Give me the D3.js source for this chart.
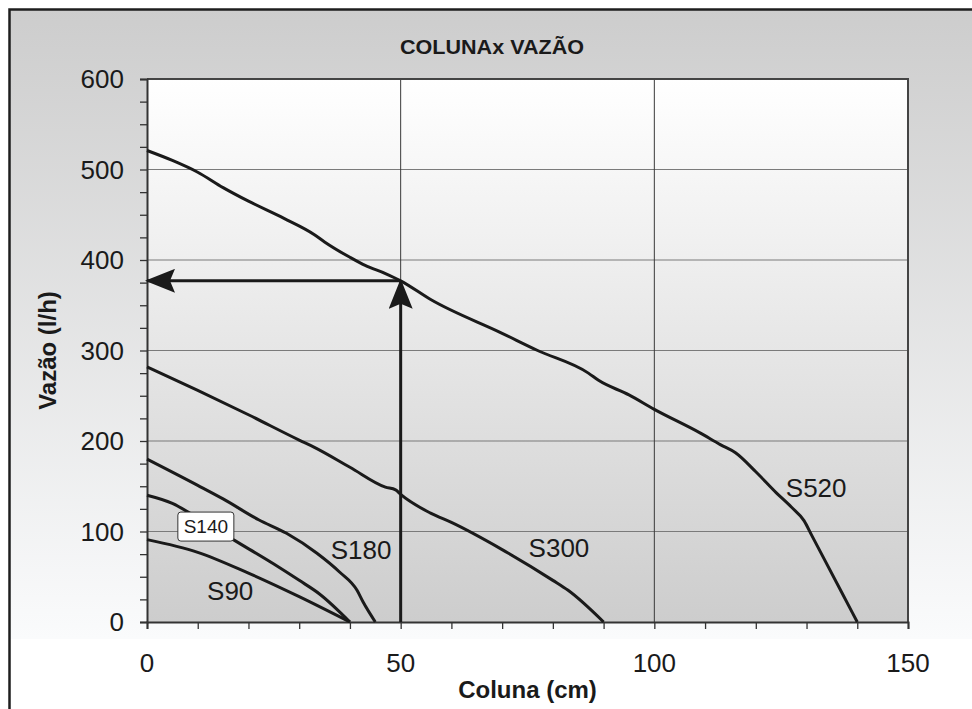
<!DOCTYPE html>
<html lang="pt">
<head>
    <meta charset="UTF-8">
    <title>COLUNAx VAZÃO</title>
    <script src="https://d3js.org/d3.v7.min.js"></script>
    <style>
        body { margin: 0; background: #fff; }
        svg { display: block; font-family: "Liberation Sans", Arial, sans-serif; }
        .tick-label { font-size: 26px; fill: #1a1a1a; }
        .curve-label { font-size: 26px; fill: #1a1a1a; }
    </style>
</head>
<body>
<div id="chart"></div>

<script>
    // Curvas: coluna (cm) x vazão (l/h)
    const colunaS90 = [0, 10, 20, 30, 40];
    const vazaoS90 = [91, 77, 54, 28, 0];

    const colunaS140 = [0, 5, 10, 17, 25, 30, 34, 40];
    const vazaoS140 = [140, 131, 115, 91, 64, 46, 31, 0];

    const colunaS180 = [0, 10, 15, 22, 27.5, 33.5, 38, 41.4, 42.6, 45];
    const vazaoS180 = [180, 151, 136, 113, 98, 76, 55, 35, 22, 0];

    const colunaS300 = [0, 10, 20, 30, 33, 40, 47, 49, 50, 56, 60, 70, 80, 83, 90];
    const vazaoS300 = [282, 256, 229, 201, 193, 171, 149, 146, 141, 120, 110, 80, 46, 35, 0];

    const colunaS520 = [0, 5, 10, 15, 20, 27, 33, 35, 40, 43, 47, 50, 56, 70, 77, 87, 89, 95, 100, 109, 113, 116, 120, 124, 127, 129.5, 131, 137, 140];
    const vazaoS520 = [521, 510, 497, 480, 465, 446, 428, 420, 403, 394, 385, 377, 356, 319, 300, 275, 267, 251, 235, 209, 196, 187, 166, 143, 127, 112, 96, 32, 0];

    const series = ["S90", "S140", "S180", "S300", "S520"];
    const colunas = [colunaS90, colunaS140, colunaS180, colunaS300, colunaS520];
    const vazoes = [vazaoS90, vazaoS140, vazaoS180, vazaoS300, vazaoS520];

    // rótulos das curvas (em unidades do gráfico)
    const rotuloColuna = [16.4, 11.6, 42.2, 81.2, 131.9];
    const rotuloVazao = [35, 106, 80, 82, 148];

    // leitura de exemplo (setas)
    const leituraColuna = 50;
    const leituraVazao = 377;

    const xTicks = [0, 50, 100, 150];
    const yTicks = [0, 100, 200, 300, 400, 500, 600];

    const W = 972, H = 709;
    const plot = { left: 147, right: 908, top: 79, bottom: 622 };

    const svg = d3.select("#chart").append("svg")
        .attr("width", W)
        .attr("height", H);

    const defs = svg.append("defs");

    const bgGrad = defs.append("linearGradient")
        .attr("id", "bgGrad").attr("x1", 0).attr("y1", 0).attr("x2", 0).attr("y2", 1);
    bgGrad.append("stop").attr("offset", "0%").attr("stop-color", "#cdcdcd");
    bgGrad.append("stop").attr("offset", "100%").attr("stop-color", "#fafbfc");

    const plotGrad = defs.append("linearGradient")
        .attr("id", "plotGrad").attr("x1", 0).attr("y1", 0).attr("x2", 0).attr("y2", 1);
    plotGrad.append("stop").attr("offset", "0%").attr("stop-color", "#ffffff");
    plotGrad.append("stop").attr("offset", "100%").attr("stop-color", "#cdcdcd");

    defs.append("marker")
        .attr("id", "seta")
        .attr("viewBox", "0 0 30 24")
        .attr("refX", 28).attr("refY", 12)
        .attr("markerWidth", 30).attr("markerHeight", 24)
        .attr("markerUnits", "userSpaceOnUse")
        .attr("orient", "auto")
        .append("path")
        .attr("d", "M0,0 L30,12 L0,24 L5,12 Z")
        .attr("fill", "#1a1a1a");

    // fundo externo
    svg.append("rect")
        .attr("x", 9).attr("y", 9)
        .attr("width", W).attr("height", 630)
        .attr("fill", "url(#bgGrad)");

    svg.append("path")
        .attr("d", `M9.5,${H} L9.5,9.5 L${W},9.5`)
        .attr("fill", "none")
        .attr("stroke", "#1e1e1e")
        .attr("stroke-width", 2.5);

    // escalas
    const x = d3.scaleLinear().domain([0, 150]).range([plot.left, plot.right]);
    const y = d3.scaleLinear().domain([0, 600]).range([plot.bottom, plot.top]);

    // área do gráfico
    svg.append("rect")
        .attr("x", plot.left).attr("y", plot.top)
        .attr("width", plot.right - plot.left)
        .attr("height", plot.bottom - plot.top)
        .attr("fill", "url(#plotGrad)");

    // grade
    svg.append("g")
        .selectAll("line")
        .data(yTicks.slice(1, -1))
        .enter().append("line")
        .attr("x1", plot.left).attr("x2", plot.right)
        .attr("y1", d => y(d)).attr("y2", d => y(d))
        .attr("stroke", "#7a7a7a").attr("stroke-width", 1.2);

    svg.append("g")
        .selectAll("line")
        .data(xTicks.slice(1, -1))
        .enter().append("line")
        .attr("x1", d => x(d)).attr("x2", d => x(d))
        .attr("y1", plot.top).attr("y2", plot.bottom)
        .attr("stroke", "#3a3a3a").attr("stroke-width", 1);

    // borda superior e direita
    svg.append("path")
        .attr("d", `M${plot.left},${plot.top} L${plot.right},${plot.top} L${plot.right},${plot.bottom}`)
        .attr("fill", "none")
        .attr("stroke", "#444").attr("stroke-width", 2);

    // eixos
    const xAxis = d3.axisBottom(x)
        .tickValues(d3.range(0, 151, 10))
        .tickSize(7)
        .tickFormat("");
    const gX = svg.append("g")
        .attr("transform", `translate(0,${plot.bottom})`)
        .call(xAxis);

    const yAxis = d3.axisLeft(y)
        .tickValues(d3.range(0, 601, 25))
        .tickSize(7)
        .tickFormat("");
    const gY = svg.append("g")
        .attr("transform", `translate(${plot.left},0)`)
        .call(yAxis);

    [gX, gY].forEach(g => {
        g.select(".domain").attr("stroke", "#333").attr("stroke-width", 2);
        g.selectAll(".tick line").attr("stroke", "#333").attr("stroke-width", 1.3);
    });

    svg.append("g")
        .selectAll("text")
        .data(xTicks)
        .enter().append("text")
        .attr("class", "tick-label")
        .attr("x", d => x(d))
        .attr("y", 672)
        .attr("text-anchor", "middle")
        .text(d => d);

    svg.append("g")
        .selectAll("text")
        .data(yTicks)
        .enter().append("text")
        .attr("class", "tick-label")
        .attr("x", 124)
        .attr("y", d => y(d))
        .attr("dy", "0.36em")
        .attr("text-anchor", "end")
        .text(d => d);

    // curvas
    const line = d3.line()
        .x(d => x(d[0]))
        .y(d => y(d[1]))
        .curve(d3.curveMonotoneX);

    svg.append("g")
        .selectAll("path")
        .data(series.map((s, i) => colunas[i].map((c, j) => [c, vazoes[i][j]])))
        .enter().append("path")
        .attr("d", line)
        .attr("fill", "none")
        .attr("stroke", "#1a1a1a")
        .attr("stroke-width", 3)
        .attr("stroke-linejoin", "round");

    // setas de leitura
    svg.append("line")
        .attr("x1", x(leituraColuna)).attr("y1", y(0))
        .attr("x2", x(leituraColuna)).attr("y2", y(leituraVazao))
        .attr("stroke", "#1a1a1a").attr("stroke-width", 3)
        .attr("marker-end", "url(#seta)");

    svg.append("line")
        .attr("x1", x(leituraColuna)).attr("y1", y(leituraVazao))
        .attr("x2", x(0)).attr("y2", y(leituraVazao))
        .attr("stroke", "#1a1a1a").attr("stroke-width", 3)
        .attr("marker-end", "url(#seta)");

    // rótulos
    series.forEach((s, i) => {
        if (s === "S140") {
            const g = svg.append("g")
                .attr("transform", `translate(${x(rotuloColuna[i])},${y(rotuloVazao[i])})`);
            g.append("rect")
                .attr("x", -28).attr("y", -14)
                .attr("width", 56).attr("height", 29)
                .attr("rx", 3)
                .attr("fill", "#fff")
                .attr("stroke", "#333").attr("stroke-width", 1);
            g.append("text")
                .attr("class", "curve-label")
                .style("font-size", "19px")
                .attr("text-anchor", "middle")
                .attr("dy", "0.36em")
                .text(s);
        } else {
            svg.append("text")
                .attr("class", "curve-label")
                .attr("x", x(rotuloColuna[i]))
                .attr("y", y(rotuloVazao[i]))
                .attr("dy", "0.36em")
                .attr("text-anchor", "middle")
                .text(s);
        }
    });

    // títulos
    svg.append("text")
        .attr("x", 492).attr("y", 54)
        .attr("text-anchor", "middle")
        .style("font-size", "20px").style("font-weight", "bold")
        .attr("textLength", 184).attr("lengthAdjust", "spacingAndGlyphs")
        .attr("fill", "#1a1a1a")
        .text("COLUNAx VAZÃO");

    svg.append("text")
        .attr("x", x(75)).attr("y", 698)
        .attr("text-anchor", "middle")
        .style("font-size", "24px").style("font-weight", "bold")
        .attr("fill", "#1a1a1a")
        .text("Coluna (cm)");

    svg.append("text")
        .attr("transform", `translate(56,${(plot.top + plot.bottom) / 2}) rotate(-90)`)
        .attr("text-anchor", "middle")
        .style("font-size", "24px").style("font-weight", "bold")
        .attr("fill", "#1a1a1a")
        .text("Vazão (l/h)");
</script>
</body>
</html>
